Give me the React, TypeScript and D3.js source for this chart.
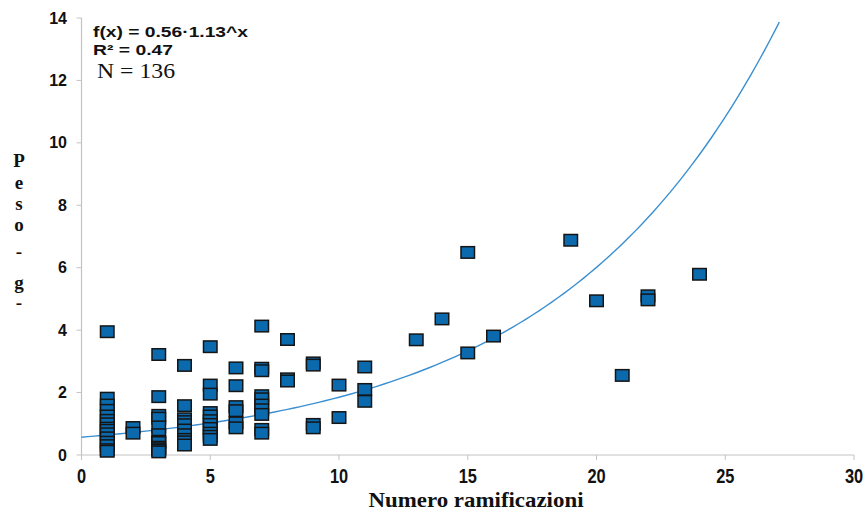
import React from "react";
import * as d3 from "d3";

// ---- data ----
const branchCounts: number[] = [
  1, 1, 1, 1, 1, 1, 1, 1, 1, 1, 1, 1, 1, 1, 1,
  2, 2,
  3, 3, 3, 3, 3, 3, 3, 3, 3, 3, 3, 3,
  4, 4, 4, 4, 4, 4, 4, 4, 4, 4,
  5, 5, 5, 5, 5, 5, 5, 5, 5, 5, 5,
  6, 6, 6, 6, 6, 6,
  7, 7, 7, 7, 7, 7, 7, 7, 7, 7,
  8, 8, 8,
  9, 9, 9, 9,
  10, 10,
  11, 11, 11,
  13, 14, 15, 15, 16, 19, 20, 21, 22, 22, 24,
];
const weights: number[] = [
  3.95, 1.82, 1.6, 1.43, 1.25, 1.11, 1.0, 0.86, 0.79, 0.68, 0.55, 0.41, 0.3, 0.17, 0.12,
  0.88, 0.7,
  3.22, 1.87, 1.27, 1.18, 0.9, 0.65, 0.44, 0.4, 0.25, 0.2, 0.15, 0.1,
  2.87, 1.58, 1.16, 1.07, 0.97, 0.8, 0.65, 0.5, 0.42, 0.32,
  3.47, 2.24, 1.95, 1.36, 1.25, 1.1, 0.98, 0.85, 0.7, 0.6, 0.5,
  2.79, 2.22, 1.55, 1.42, 1.03, 0.87,
  4.13, 2.78, 2.7, 1.9, 1.8, 1.6, 1.45, 1.3, 0.82, 0.7,
  3.7, 2.44, 2.37,
  2.95, 2.88, 0.98, 0.87,
  2.24, 1.2,
  2.82, 2.1, 1.72,
  3.69, 4.36, 6.49, 3.27, 3.81, 6.88, 4.94, 2.55, 5.1, 4.97, 5.79,
];
const xTicks: number[] = [0, 5, 10, 15, 20, 25, 30];
const yTicks: number[] = [0, 2, 4, 6, 8, 10, 12, 14];
// exponential trend f(x) = a * b^x, drawn over the range of the fitted line
const fitA = 0.57;
const fitB = 1.125;
const fitDomain: [number, number] = [0, 27.1];
const equationLines: string[] = ["f(x) = 0.56·1.13^x", "R² = 0.47"];
const sampleLabel = "N = 136";
const xTitle = "Numero ramificazioni";
const yTitleChars: string[] = ["P", "e", "s", "o", "-", "g", "-"];

export default function App() {
  const W = 868;
  const H = 516;
  const x = d3.scaleLinear().domain([0, 30]).range([81.5, 854]);
  const y = d3.scaleLinear().domain([0, 14]).range([455, 18]);

  const trendX = d3.range(fitDomain[0], fitDomain[1], 0.25).concat([fitDomain[1]]);
  const trendLine = d3
    .line<number>()
    .x((d) => x(d))
    .y((d) => y(fitA * Math.pow(fitB, d)));

  const points = branchCounts.map((c, i) => ({ c, w: weights[i] }));

  const axisColor = "#c3c3c3";
  const mw = 13.5;
  const mh = 11.5;
  const yTitleBaselines = [167, 189, 210, 231, 258, 289, 309];

  return (
    <svg
      width={W}
      height={H}
      style={{ position: "absolute", left: 0, top: 0, background: "#fff" }}
    >
      {/* axes */}
      <line x1={x(0)} x2={x(0)} y1={y(14)} y2={y(0)} stroke={axisColor} strokeWidth={1.2} />
      <line x1={x(0)} x2={x(30)} y1={y(0)} y2={y(0)} stroke={axisColor} strokeWidth={1.2} />
      {yTicks.map((t) => (
        <g key={"y" + t}>
          <line x1={x(0) - 5} x2={x(0)} y1={y(t)} y2={y(t)} stroke={axisColor} strokeWidth={1} />
          <text
            x={67}
            y={y(t) + 5.5}
            textAnchor="end"
            fontFamily="'Liberation Sans', Arial, sans-serif"
            fontWeight="bold"
            fontSize={16}
            fill="#111"
          >
            {t}
          </text>
        </g>
      ))}
      {xTicks.map((t) => (
        <g key={"x" + t}>
          <line x1={x(t)} x2={x(t)} y1={y(0)} y2={y(0) + 5} stroke={axisColor} strokeWidth={1} />
          <text
            transform={`translate(${x(t)},${483}) scale(0.78,1)`}
            textAnchor="middle"
            fontFamily="'Liberation Sans', Arial, sans-serif"
            fontWeight="bold"
            fontSize={21}
            fill="#111"
          >
            {t}
          </text>
        </g>
      ))}

      {/* trend line */}
      <path d={trendLine(trendX) || ""} fill="none" stroke="#3a8fd0" strokeWidth={1.4} />

      {/* markers */}
      {points.map((p, i) => (
        <rect
          key={i}
          x={x(p.c) - mw / 2}
          y={y(p.w) - mh / 2}
          width={mw}
          height={mh}
          fill="#0b6aad"
          stroke="#151515"
          strokeWidth={1.5}
        />
      ))}

      {/* annotations */}
      {equationLines.map((s, i) => (
        <text
          key={s}
          x={93}
          y={37 + i * 18}
          fontFamily="'Liberation Sans', Arial, sans-serif"
          fontWeight="bold"
          fontSize={15}
          fill="#111"
          textLength={i === 0 ? 155 : 80}
          lengthAdjust="spacingAndGlyphs"
        >
          {s}
        </text>
      ))}
      <text
        x={97}
        y={78}
        fontFamily="'Liberation Serif', 'Times New Roman', serif"
        fontSize={22}
        fill="#111"
        textLength={78}
        lengthAdjust="spacingAndGlyphs"
      >
        {sampleLabel}
      </text>

      {/* axis titles */}
      <text
        x={476}
        y={507}
        textAnchor="middle"
        fontFamily="'Liberation Serif', 'Times New Roman', serif"
        fontWeight="bold"
        fontSize={21}
        fill="#111"
        textLength={215}
        lengthAdjust="spacingAndGlyphs"
      >
        {xTitle}
      </text>
      {yTitleChars.map((ch, i) => (
        <text
          key={i}
          x={19}
          y={yTitleBaselines[i]}
          textAnchor="middle"
          fontFamily="'Liberation Serif', 'Times New Roman', serif"
          fontWeight="bold"
          fontSize={19}
          fill="#111"
        >
          {ch}
        </text>
      ))}
    </svg>
  );
}
